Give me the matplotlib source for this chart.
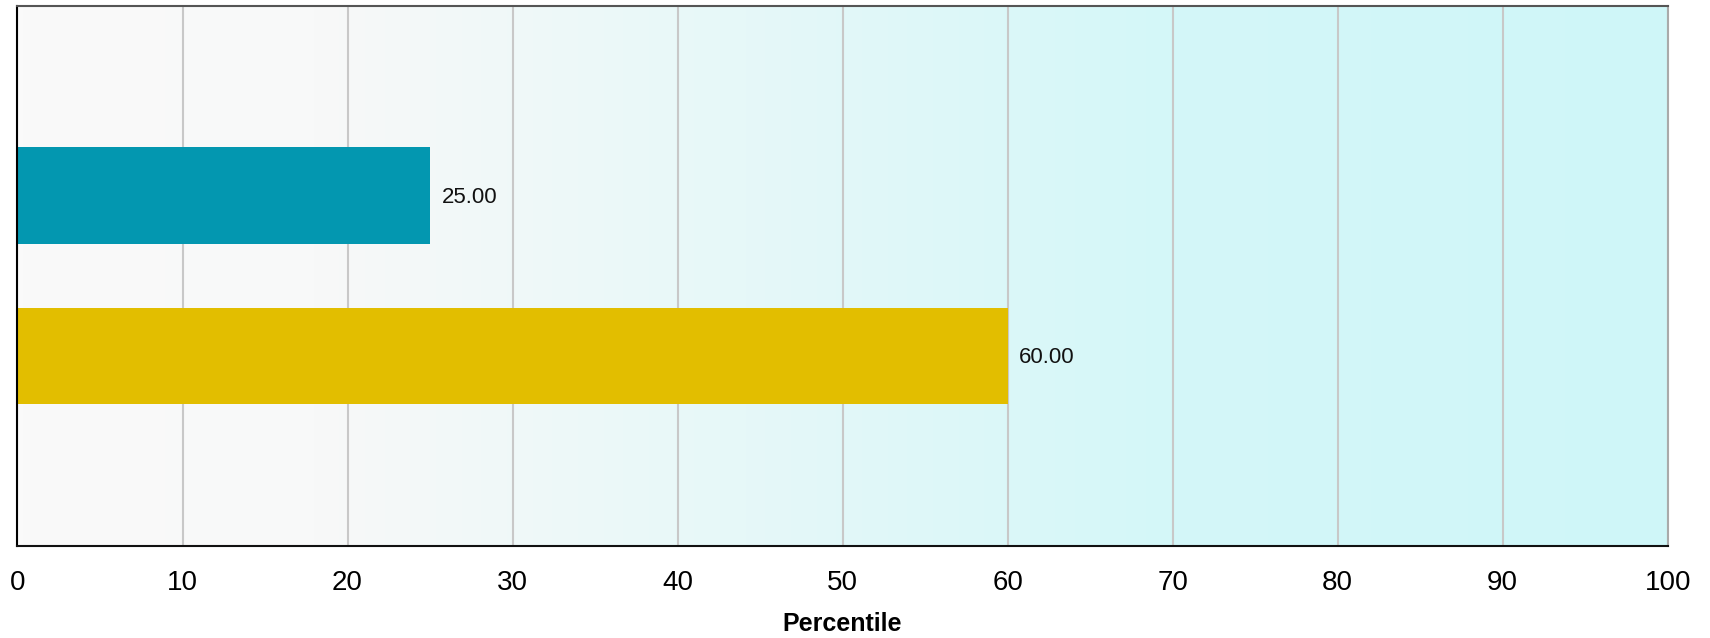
import numpy as np
import matplotlib.pyplot as plt
from matplotlib.colors import LinearSegmentedColormap

plt.rcParams['font.family'] = ['Liberation Sans', 'DejaVu Sans']

# Percentile values, one bar per row (top to bottom)
labels = ['A', 'B']
values = [25.0, 60.0]
colors = ['#0397b0', '#e2be00']
xticks = [0, 10, 20, 30, 40, 50, 60, 70, 80, 90, 100]

fig = plt.figure(figsize=(17.10, 6.38), dpi=100)
ax = fig.add_axes([0.01023, 0.1442, 0.9650, 0.8469])

# background gradient, grey on the left fading into light cyan
cmap = LinearSegmentedColormap.from_list('bg', [(0.0, '#fafafa'), (0.18, '#f8f9f9'),
                                                (0.7, '#d4f7f8'), (1.0, '#cff6f8')])
grad = np.linspace(0, 1, 512).reshape(1, -1)
ax.imshow(grad, cmap=cmap, aspect='auto', extent=[0, 100, -1.18, 2.18],
          origin='lower', zorder=0)

ypos = np.arange(len(values))
ax.barh(ypos, values, height=0.6, color=colors, zorder=3)
for y, v in zip(ypos, values):
    ax.text(v + 0.7, y + 0.01, '%.2f' % v, va='center', ha='left', fontsize=16,
            color='#111111', zorder=4)

ax.set_xlim(0, 100)
ax.set_ylim(2.18, -1.18)
ax.set_xticks(xticks)
ax.set_yticks([])
ax.xaxis.grid(True, color='#c8c8c8', linewidth=1.5, zorder=1)
ax.set_axisbelow(False)
for line in ax.get_xgridlines():
    line.set_zorder(1)
ax.tick_params(axis='x', length=0, pad=17, labelsize=20)

ax.spines['left'].set_color('#000000')
ax.spines['bottom'].set_color('#111111')
ax.spines['top'].set_color('#555555')
ax.spines['right'].set_color('#aaaaaa')
for s in ax.spines.values():
    s.set_linewidth(1.5)
    s.set_zorder(5)

ax.set_xlabel('Percentile', fontsize=18, fontweight='bold', labelpad=12)

fig.savefig('out.png', dpi=100)
